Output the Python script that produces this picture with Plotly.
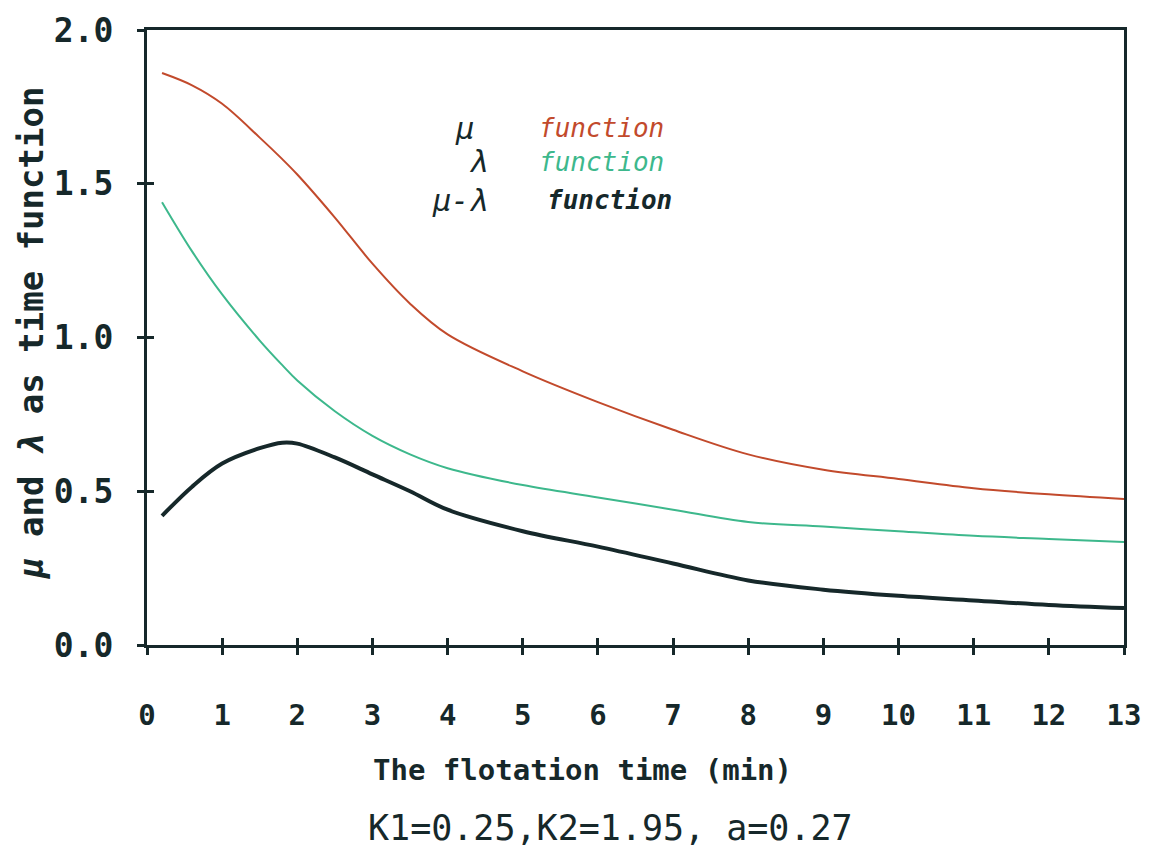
import plotly.graph_objects as go

# ---- data ----
time_min = [0.2, 0.6, 1.0, 1.5, 1.8, 2.0, 2.5, 3.0, 3.5, 4.0, 5, 6, 7, 8, 9, 10, 11, 12, 13]
mu_vals = [1.86, 1.82, 1.76, 1.65, 1.58, 1.53, 1.39, 1.24, 1.11, 1.01, 0.89, 0.79, 0.70, 0.62, 0.57, 0.54, 0.51, 0.49, 0.475]
lambda_vals = [1.44, 1.28, 1.14, 0.99, 0.91, 0.86, 0.76, 0.68, 0.62, 0.575, 0.52, 0.48, 0.44, 0.40, 0.385, 0.37, 0.355, 0.345, 0.335]
diff_vals = [0.42, 0.515, 0.59, 0.64, 0.658, 0.655, 0.61, 0.555, 0.50, 0.44, 0.37, 0.32, 0.265, 0.21, 0.18, 0.16, 0.145, 0.13, 0.12]

x_ticks = list(range(0, 14))
x_tick_labels = [str(v) for v in x_ticks]
y_ticks = [0.0, 0.5, 1.0, 1.5, 2.0]
y_tick_labels = ["0.0", "0.5", "1.0", "1.5", "2.0"]

RED = "#c24a2c"
GREEN = "#3db88c"
DARK = "#16282a"
FONT = "DejaVu Sans Mono"

fig = go.Figure()
fig.add_trace(go.Scatter(x=time_min, y=mu_vals, mode="lines", line=dict(color=RED, width=2, shape="spline"),
                         name="μ function", showlegend=False))
fig.add_trace(go.Scatter(x=time_min, y=lambda_vals, mode="lines", line=dict(color=GREEN, width=2, shape="spline"),
                         name="λ function", showlegend=False))
fig.add_trace(go.Scatter(x=time_min, y=diff_vals, mode="lines", line=dict(color=DARK, width=4, shape="spline"),
                         name="μ-λ function", showlegend=False))
# invisible trace to activate the overlay axes (inside tick halves)
fig.add_trace(go.Scatter(x=[time_min[0]], y=[diff_vals[0]], xaxis="x2", yaxis="y2", mode="markers",
                         marker=dict(opacity=0), hoverinfo="skip", showlegend=False))

axis_common = dict(showgrid=False, zeroline=False, tickcolor=DARK, tickwidth=3, automargin=False)

fig.update_layout(
    width=1164, height=854,
    margin=dict(l=139, r=48, t=22, b=217),
    paper_bgcolor="white", plot_bgcolor="white",
    font=dict(family=FONT, color=DARK),
    xaxis=dict(range=[0, 13], tickmode="array", tickvals=x_ticks, ticktext=x_tick_labels,
               ticks="outside", ticklen=7, mirror=True, showline=True, linecolor=DARK, linewidth=3,
               tickfont=dict(family=FONT, size=29, color=DARK, weight="bold"), ticklabelstandoff=35,
               **axis_common),
    yaxis=dict(range=[0, 2], tickmode="array", tickvals=y_ticks, ticktext=y_tick_labels,
               ticks="outside", ticklen=7, mirror=True, showline=True, linecolor=DARK, linewidth=3,
               tickfont=dict(family=FONT, size=33, color=DARK, weight="bold"), ticklabelstandoff=17,
               **axis_common),
    xaxis2=dict(range=[0, 13], overlaying="x", anchor="y", side="bottom", tickmode="array", tickvals=x_ticks,
                ticks="inside", ticklen=7, showticklabels=False, showline=False, **axis_common),
    yaxis2=dict(range=[0, 2], overlaying="y", anchor="x", side="left", tickmode="array", tickvals=y_ticks,
                ticks="inside", ticklen=7, showticklabels=False, showline=False, **axis_common),
)

annotations = [
    # axis titles
    dict(text="The flotation time (min)", xref="paper", yref="paper", x=0.446, y=-0.203,
         xanchor="center", yanchor="middle", showarrow=False,
         font=dict(family=FONT, size=29, color=DARK, weight="bold")),
    dict(text="K1=0.25,K2=1.95, a=0.27", xref="paper", yref="paper", x=0.474, y=-0.298,
         xanchor="center", yanchor="middle", showarrow=False,
         font=dict(family=FONT, size=35, color=DARK)),
    dict(text="<i>μ</i> and <i>λ</i> as time function", xref="paper", yref="paper", x=-0.119, y=0.507,
         xanchor="center", yanchor="middle", textangle=-90, showarrow=False,
         font=dict(family=FONT, size=34, color=DARK, weight="bold")),
    # in-plot legend
    dict(text="<i>μ</i>", x=4.23, y=1.681, xref="x", yref="y", xanchor="center", yanchor="middle",
         showarrow=False, font=dict(family=FONT, size=30, color=DARK)),
    dict(text="<i>function</i>", x=5.19, y=1.681, xref="x", yref="y", xanchor="left", yanchor="middle",
         showarrow=False, font=dict(family=FONT, size=26, color=RED)),
    dict(text="<i>λ</i>", x=4.40, y=1.571, xref="x", yref="y", xanchor="center", yanchor="middle",
         showarrow=False, font=dict(family=FONT, size=30, color=DARK)),
    dict(text="<i>function</i>", x=5.19, y=1.571, xref="x", yref="y", xanchor="left", yanchor="middle",
         showarrow=False, font=dict(family=FONT, size=26, color=GREEN)),
    dict(text="<i>μ-λ</i>", x=4.16, y=1.447, xref="x", yref="y", xanchor="center", yanchor="middle",
         showarrow=False, font=dict(family=FONT, size=30, color=DARK)),
    dict(text="<b><i>function</i></b>", x=5.30, y=1.447, xref="x", yref="y", xanchor="left", yanchor="middle",
         showarrow=False, font=dict(family=FONT, size=26, color=DARK)),
]
fig.update_layout(annotations=annotations)

fig.write_html("out.html")
